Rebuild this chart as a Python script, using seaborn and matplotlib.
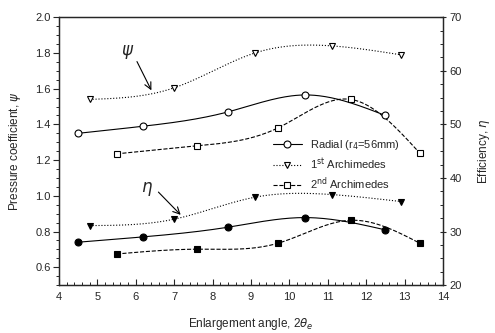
import numpy as np
import pandas as pd
import matplotlib
matplotlib.use("Agg")
import matplotlib.pyplot as plt
from matplotlib.ticker import MultipleLocator
from matplotlib.lines import Line2D
import seaborn as sns

# ---- data ----
x_radial = [4.5, 6.2, 8.4, 10.4, 12.5]
psi_radial = [1.35, 1.39, 1.47, 1.565, 1.45]
eta_radial = [28.0, 29.0, 30.8, 32.6, 30.3]

x_arch1 = [4.8, 7.0, 9.1, 11.1, 12.9]
psi_arch1 = [1.54, 1.605, 1.80, 1.84, 1.79]
eta_arch1 = [31.1, 32.3, 36.4, 36.9, 35.6]

x_arch2 = [5.5, 7.6, 9.7, 11.6, 13.4]
psi_arch2 = [1.235, 1.28, 1.38, 1.54, 1.238]
eta_arch2 = [25.8, 26.7, 27.8, 32.1, 27.8]

labels = ["Radial (r$_4$=56mm)", "1$^{\\rm st}$ Archimedes", "2$^{\\rm nd}$ Archimedes"]


def spline(x, y, n=200):
    """Natural cubic spline through the points (for a smooth connecting line)."""
    x = np.asarray(x, float); y = np.asarray(y, float)
    m = len(x); h = np.diff(x)
    A = np.zeros((m, m)); b = np.zeros(m)
    A[0, 0] = A[-1, -1] = 1
    for i in range(1, m - 1):
        A[i, i - 1] = h[i - 1]; A[i, i] = 2 * (h[i - 1] + h[i]); A[i, i + 1] = h[i]
        b[i] = 3 * ((y[i + 1] - y[i]) / h[i] - (y[i] - y[i - 1]) / h[i - 1])
    c = np.linalg.solve(A, b)
    xs = np.linspace(x[0], x[-1], n)
    idx = np.clip(np.searchsorted(x, xs) - 1, 0, m - 2)
    dx = xs - x[idx]
    bb = (y[1:] - y[:-1]) / h - h * (2 * c[:-1] + c[1:]) / 3
    d = (c[1:] - c[:-1]) / (3 * h)
    ys = y[idx] + bb[idx] * dx + c[idx] * dx ** 2 + d[idx] * dx ** 3
    return xs, ys


sns.set_theme(style="ticks")
plt.rcParams['font.family'] = ['Liberation Sans', 'DejaVu Sans']
plt.rcParams['mathtext.fontset'] = 'dejavusans'

fig = plt.figure(figsize=(4.95, 3.33), dpi=100)
ax = fig.add_axes([0.119, 0.144, 0.776, 0.804])
ax2 = ax.twinx()

styles = [("-", "o"), (":", "v"), ("--", "s")]
psi_sets = [(x_radial, psi_radial), (x_arch1, psi_arch1), (x_arch2, psi_arch2)]
eta_sets = [(x_radial, eta_radial), (x_arch1, eta_arch1), (x_arch2, eta_arch2)]

for (ls, mk), (xx, yy) in zip(styles, psi_sets):
    xs, ys = spline(xx, yy)
    sns.lineplot(x=xs, y=ys, ax=ax, color="black", linestyle=ls, linewidth=0.8, sort=False)
    ax.plot(xx, yy, linestyle="none", marker=mk, markersize=5, markerfacecolor="white",
            markeredgecolor="black", markeredgewidth=0.8, zorder=5)

for (ls, mk), (xx, yy) in zip(styles, eta_sets):
    xs, ys = spline(xx, yy)
    sns.lineplot(x=xs, y=ys, ax=ax2, color="black", linestyle=ls, linewidth=0.8, sort=False)
    ax2.plot(xx, yy, linestyle="none", marker=mk, markersize=5, markerfacecolor="black",
             markeredgecolor="black", markeredgewidth=0.8, zorder=5)

ax.set_xlim(4, 14)
ax.set_ylim(0.5, 2.0)
ax2.set_ylim(20, 70)

ax.xaxis.set_major_locator(MultipleLocator(1))
ax.xaxis.set_minor_locator(MultipleLocator(0.2))
ax.yaxis.set_minor_locator(MultipleLocator(0.05))
ax2.yaxis.set_major_locator(MultipleLocator(10))
ax2.yaxis.set_minor_locator(MultipleLocator(2.5))
ax.set_yticks([0.6, 0.8, 1.0, 1.2, 1.4, 1.6, 1.8, 2.0])
ax.yaxis.set_major_formatter(matplotlib.ticker.FormatStrFormatter('%.1f'))

ax.tick_params(axis='x', which='major', direction='in', length=4, width=0.8, labelsize=8, pad=5)
ax.tick_params(axis='x', which='minor', direction='in', length=2.5, width=0.7)
ax.tick_params(axis='y', which='major', direction='out', length=4, width=0.8, labelsize=8, pad=2)
ax.tick_params(axis='y', which='minor', direction='out', length=2.5, width=0.7)
ax2.tick_params(axis='y', which='major', direction='inout', length=5, width=0.8, labelsize=8, pad=2)
ax2.tick_params(axis='y', which='minor', direction='in', length=2.5, width=0.7)

for a in (ax, ax2):
    for s in a.spines.values():
        s.set_linewidth(0.9)
        s.set_visible(True)

ax.set_xlabel("Enlargement angle, 2$\\theta_e$", fontsize=8.5, labelpad=10)
ax.set_ylabel("Pressure coefficient, $\\psi$", fontsize=8.5, labelpad=9)
ax2.set_ylabel("Efficiency, $\\eta$", fontsize=8.5, labelpad=10)

# annotations
ax.annotate("", xy=(6.44, 1.577), xytext=(6.0, 1.766),
            arrowprops=dict(arrowstyle="->", color="black", lw=0.8))
ax.text(5.8, 1.805, "$\\psi$", fontsize=12, ha="center", va="center")
ax.annotate("", xy=(7.22, 0.882), xytext=(6.54, 1.032),
            arrowprops=dict(arrowstyle="->", color="black", lw=0.8))
ax.text(6.29, 1.038, "$\\eta$", fontsize=12, ha="center", va="center")

handles = [Line2D([], [], color="black", linestyle=ls, marker=mk, markersize=5,
                  markerfacecolor="white", markeredgecolor="black", linewidth=0.8, markeredgewidth=0.8)
           for ls, mk in styles]
ax.legend(handles, labels, loc="upper left", bbox_to_anchor=(0.545, 0.565), frameon=False,
          fontsize=8, handlelength=2.6, handletextpad=0.8, labelspacing=0.35, borderaxespad=0)

fig.savefig("out.png", dpi=100)
